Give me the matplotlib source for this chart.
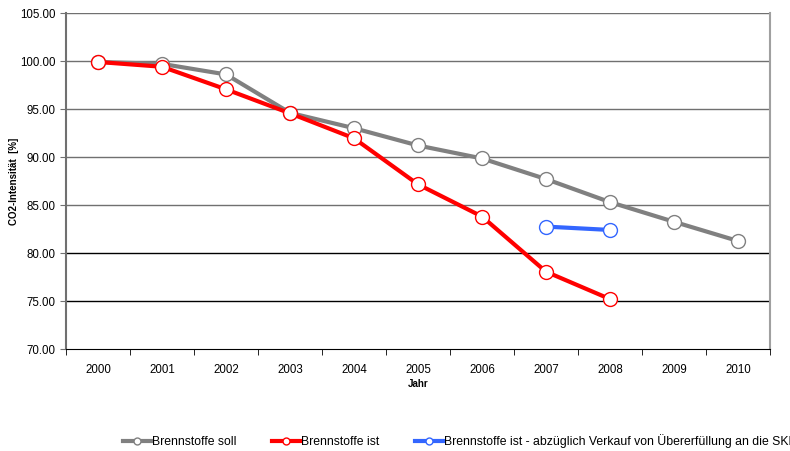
import numpy as np
import matplotlib
matplotlib.use("Agg")
import matplotlib.pyplot as plt

plt.rcParams['font.family'] = ['Liberation Sans', 'DejaVu Sans']

years = ["2000", "2001", "2002", "2003", "2004", "2005", "2006", "2007", "2008", "2009", "2010"]
soll = [99.9, 99.7, 98.6, 94.6, 93.0, 91.2, 89.85, 87.7, 85.3, 83.25, 81.25]
ist = [99.9, 99.4, 97.05, 94.55, 91.95, 87.15, 83.8, 78.05, 75.2]
ist_skr = [82.75, 82.4]
skr_years = ["2007", "2008"]

fig = plt.figure(figsize=(7.9, 4.51), dpi=100)
ax = fig.add_axes([66/790, 1 - 349/451, (770 - 66)/790, (349 - 13)/451])

x = np.arange(len(years))

marker_kw = dict(marker='o', markersize=10, markerfacecolor='white', markeredgewidth=1)

ax.plot(x, soll, color='#808080', lw=3, markeredgecolor='#808080',
        label='Brennstoffe soll', zorder=3, **marker_kw)
ax.plot(x[:len(ist)], ist, color='#ff0000', lw=3, markeredgecolor='#ff0000',
        label='Brennstoffe ist', zorder=4, **marker_kw)
xs = [years.index(y) for y in skr_years]
ax.plot(xs, ist_skr, color='#3366ff', lw=3, markeredgecolor='#3366ff',
        label='Brennstoffe ist - abzüglich Verkauf von Übererfüllung an die SKR',
        zorder=4, **marker_kw)

ax.set_xlim(-0.5, len(years) - 0.5)
ax.set_ylim(70, 105)

yt = np.arange(70, 105.1, 5)
ax.set_yticks(yt)
ax.set_yticklabels(["%.2f" % v for v in yt], fontsize=8.3)
for v in yt[1:]:
    c = 'black' if v < 82 else '#707070'
    ax.axhline(v, color=c, lw=1, zorder=1)

ax.set_xticks(x)
ax.set_xticklabels(years, fontsize=8.3)
ax.set_xticks(np.arange(-0.5, len(years)), minor=True)
ax.tick_params(axis='x', which='major', length=0, pad=11)
ax.tick_params(axis='x', which='minor', length=4, color='black')
ax.tick_params(axis='y', length=4, color='#707070')

ax.spines['left'].set_color('#707070')
ax.spines['left'].set_linewidth(1.5)
ax.spines['right'].set_color('#a0a0a0')
ax.spines['right'].set_linewidth(1.5)
ax.spines['top'].set_visible(False)
ax.spines['bottom'].set_color('black')

ax.set_xlabel('Jahr', fontsize=7, fontweight='bold', labelpad=2)
ax.set_ylabel('CO2-Intensität  [%]', fontsize=7, fontweight='bold', labelpad=1)

leg = fig.legend(loc='center left', bbox_to_anchor=(123/790, 1 - 441/451), ncol=3,
                 fontsize=8.8, frameon=False, handlelength=2.3, handletextpad=0.05,
                 columnspacing=2.95, borderaxespad=0, borderpad=0)
for h in leg.legend_handles:
    h.set_markersize(5)
    h.set_linewidth(3)

plt.savefig('out.png', dpi=100)
